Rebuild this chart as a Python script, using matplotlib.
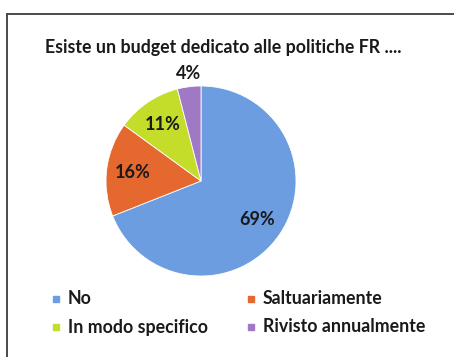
import matplotlib
matplotlib.use("Agg")
import matplotlib.pyplot as plt
from matplotlib.lines import Line2D

plt.rcParams['font.family'] = ['Lato', 'DejaVu Sans']
plt.rcParams['font.weight'] = 'bold'

# dati del grafico
titolo = "Esiste un budget dedicato alle politiche FR ...."
categorie = ["No", "Saltuariamente", "In modo specifico", "Rivisto annualmente"]
valori = [69, 16, 11, 4]
colori = ["#6b9de0", "#e5682f", "#c4dc2a", "#9f79c4"]

W, H = 454, 357
fig = plt.figure(figsize=(W / 100, H / 100), dpi=100)
fig.patch.set_facecolor("white")

# cornice della pagina (bordo superiore e sinistro)
fig.add_artist(Line2D([7 / W, 1], [1 - 14 / H, 1 - 14 / H], color="#4a4a4a", lw=1.4))
fig.add_artist(Line2D([7 / W, 7 / W], [0, 1 - 14 / H], color="#4a4a4a", lw=1.4))

fig.text(223 / W, 1 - 47 / H, titolo, ha="center", va="center",
         fontsize=12.8, fontweight="bold", color="#1a1a1a")

# torta: centro (201,181) px, raggio 95 px
cx, cy, r = 201, 181, 95
ax = fig.add_axes([(cx - r) / W, (H - cy - r) / H, 2 * r / W, 2 * r / H])
wedges, testi, perc = ax.pie(valori, colors=colori, startangle=90, counterclock=False,
                             autopct="%d%%", pctdistance=0.72, radius=1,
                             wedgeprops=dict(linewidth=0.6, edgecolor="white"),
                             textprops=dict(fontsize=13, fontweight="bold", color="#1a1a1a"))
# l'etichetta della fetta piccola sta fuori
perc[3].set_position((-0.13, 1.13))
ax.set_xlim(-1, 1)
ax.set_ylim(-1, 1)
ax.set_aspect("equal")
ax.axis("off")

# legenda su due colonne
pos = [(56, 299), (251, 299), (56, 327), (251, 327)]
for (x, y), lab, col in zip(pos, categorie, colori):
    fig.add_artist(plt.Rectangle(((x - 3) / W, 1 - (y + 3) / H), 6 / W, 6 / H,
                                 color=col, transform=fig.transFigure))
    fig.text((x + 12) / W, 1 - y / H, lab, ha="left", va="center",
             fontsize=12.8, fontweight="bold", color="#1a1a1a")

fig.savefig("out.png", dpi=100, facecolor="white")
